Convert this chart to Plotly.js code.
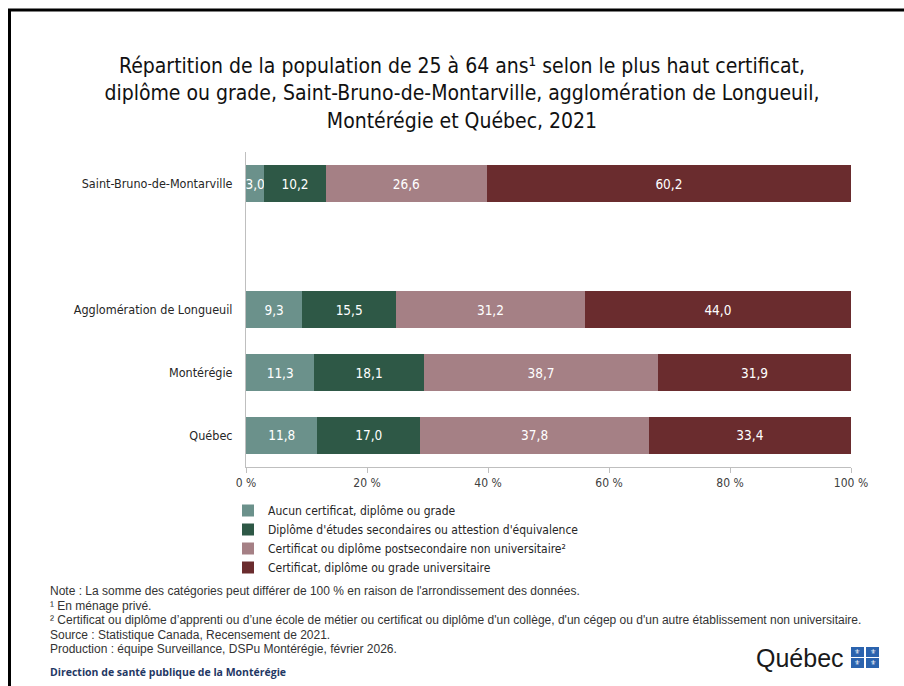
<!DOCTYPE html>
<html>
<head>
<meta charset="utf-8">
<script src="https://cdn.plot.ly/plotly-3.0.1.min.js"></script>
<style>
html,body{margin:0;padding:0;background:#fff;}
#chart{width:904px;height:686px;}
</style>
</head>
<body>
<div id="chart"></div>
<script>
// ---- Data ----
const categories = ['Saint-Bruno-de-Montarville', ' ', 'Agglomération de Longueuil', 'Montérégie', 'Québec'];
const seriesNames = [
  'Aucun certificat, diplôme ou grade',
  "Diplôme d'études secondaires ou attestion d'équivalence",
  'Certificat ou diplôme postsecondaire non universitaire²',
  'Certificat, diplôme ou grade universitaire'
];
const aucun        = [3.0, null, 9.3, 11.3, 11.8];
const secondaire   = [10.2, null, 15.5, 18.1, 17.0];
const postsecond   = [26.6, null, 31.2, 38.7, 37.8];
const universitaire= [60.2, null, 44.0, 31.9, 33.4];
const xTickVals = [0, 20, 40, 60, 80, 100];
const xTickLabels = ['0 %', '20 %', '40 %', '60 %', '80 %', '100 %'];

const colors = ['#6b918b', '#2e5846', '#a58085', '#6a2c2e'];
const FONT = '"Liberation Sans Narrow", "Arial Narrow", "DejaVu Sans Condensed", "Roboto", sans-serif';
const NOTE_FONT = '"Liberation Sans Narrow", "Arial Narrow", "Liberation Sans", Arial, sans-serif';

// layout geometry helpers (pixel -> paper)
const M = {l: 246, r: 53, t: 152, b: 219};
const PW = 904 - M.l - M.r, PH = 686 - M.t - M.b;
const px = x => (x - M.l) / PW;
const py = y => (686 - M.b - y) / PH;

const seriesVals = [aucun, secondaire, postsecond, universitaire];
const traces = seriesVals.map((vals, i) => ({
  type: 'bar',
  orientation: 'h',
  name: seriesNames[i],
  x: vals,
  y: categories,
  marker: {color: colors[i], line: {width: 0}},
  texttemplate: '%{x:.1f}',
  textposition: 'inside',
  insidetextanchor: 'middle',
  constraintext: 'none',
  textangle: 0,
  textfont: {color: '#ffffff', size: 13.5, family: FONT},
  hoverinfo: 'skip'
}));

const notes = [
  "Note : La somme des catégories peut différer de 100 % en raison de l'arrondissement des données.",
  '¹ En ménage privé.',
  "² Certificat ou diplôme d’apprenti ou d’une école de métier ou certificat ou diplôme d'un collège, d'un cégep ou d'un autre établissement non universitaire.",
  'Source : Statistique Canada, Recensement de 2021.',
  'Production : équipe Surveillance, DSPu Montérégie, février 2026.'
];

const shapes = [
  // frame (top and left)
  {type: 'line', xref: 'paper', yref: 'paper', x0: px(8), x1: px(904), y0: py(10), y1: py(10), line: {color: '#000', width: 3}},
  {type: 'line', xref: 'paper', yref: 'paper', x0: px(9.5), x1: px(9.5), y0: py(9), y1: py(690), line: {color: '#000', width: 3}},
];
// Québec logo flag blocks
const flagBlocks = [[851, 647], [866, 647], [851, 658], [866, 658]];
flagBlocks.forEach(([x, y]) => {
  shapes.push({type: 'rect', xref: 'paper', yref: 'paper', x0: px(x), x1: px(x + 13), y0: py(y), y1: py(y + 10), fillcolor: '#2b63ae', line: {width: 0}});
});

const annotations = [];
notes.forEach((t, i) => {
  annotations.push({xref: 'paper', yref: 'paper', x: px(48), y: py(591 + i * 14.5), xanchor: 'left', yanchor: 'middle', align: 'left',
    text: t, showarrow: false, font: {family: NOTE_FONT, size: 12, color: '#333'}});
});
annotations.push(
  {xref: 'paper', yref: 'paper', x: px(48), y: py(672), xanchor: 'left', yanchor: 'middle', align: 'left',
   text: '<b>Direction de santé publique de la Montérégie</b>', showarrow: false,
   font: {family: '"Open Sans", "Liberation Sans", sans-serif', size: 10.5, color: '#1f3864'}},
  {xref: 'paper', yref: 'paper', x: px(846), y: py(658), xanchor: 'right', yanchor: 'middle',
   text: 'Québec', showarrow: false, font: {family: '"Liberation Sans", Arial, sans-serif', size: 25, color: '#1a1a1a'}}
);
flagBlocks.forEach(([x, y]) => {
  annotations.push({xref: 'paper', yref: 'paper', x: px(x + 6.5), y: py(y + 5), xanchor: 'center', yanchor: 'middle',
    text: '⚜', showarrow: false, font: {family: '"DejaVu Sans", sans-serif', size: 7, color: '#ffffff'}});
});

const layout = {
  width: 904, height: 686,
  margin: M,
  paper_bgcolor: '#ffffff', plot_bgcolor: '#ffffff',
  barmode: 'stack',
  bargap: 0.41,
  separators: ', ',
  font: {family: FONT, size: 12, color: '#262626'},
  title: {
    text: 'Répartition de la population de 25 à 64 ans¹ selon le plus haut certificat,<br>diplôme ou grade, Saint-Bruno-de-Montarville, agglomération de Longueuil,<br>Montérégie et Québec, 2021',
    x: 462 / 904, xref: 'container', xanchor: 'center',
    y: 1 - 73 / 686, yref: 'container', yanchor: 'top',
    font: {family: FONT, size: 21, color: '#111'}
  },
  xaxis: {
    range: [0, 100], tickmode: 'array', tickvals: xTickVals, ticktext: xTickLabels,
    showgrid: false, zeroline: false,
    showline: true, linecolor: '#bfbfbf', linewidth: 1,
    ticks: 'outside', ticklen: 5, tickcolor: '#bfbfbf',
    tickfont: {family: FONT, size: 12, color: '#404040'},
    fixedrange: true
  },
  yaxis: {
    type: 'category', categoryorder: 'array', categoryarray: categories,
    autorange: 'reversed',
    showgrid: false, zeroline: false,
    showline: true, linecolor: '#bfbfbf', linewidth: 1,
    ticks: '', ticklabelstandoff: 10,
    tickfont: {family: FONT, size: 12.5, color: '#262626'},
    fixedrange: true
  },
  showlegend: true,
  legend: {
    orientation: 'v', x: px(228), xanchor: 'left', y: py(496), yanchor: 'top',
    font: {family: FONT, size: 12, color: '#262626'},
    traceorder: 'normal', itemclick: false, itemdoubleclick: false,
    tracegroupgap: 0, itemwidth: 30
  },
  shapes: shapes,
  annotations: annotations
};

Plotly.newPlot('chart', traces, layout, {displayModeBar: false, staticPlot: true});
</script>
</body>
</html>
